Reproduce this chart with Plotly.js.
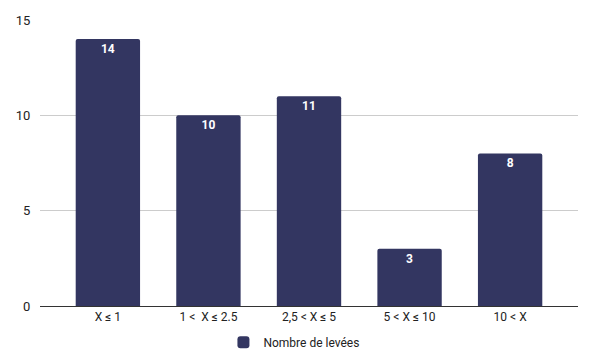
<!DOCTYPE html>
<html><head><meta charset="utf-8">
<script src="https://cdn.plot.ly/plotly-3.0.1.min.js"></script>
<style>html,body{margin:0;padding:0;background:#fff}</style>
</head><body><div id="chart" style="width:594px;height:364px"></div>
<script>
const categories = ["X ≤ 1", "1 <  X ≤ 2.5", "2,5 < X ≤ 5", "5 < X ≤ 10", "10 < X"];
const values = [14, 10, 11, 3, 8];
const seriesName = "Nombre de levées";
const yTicks = [0, 5, 10, 15];

Plotly.newPlot("chart", [{
  type: "bar",
  x: categories,
  y: values,
  name: seriesName,
  marker: {color: "#333661", cornerradius: 2},
  width: 0.64,
  text: values.map(String),
  textposition: "inside",
  insidetextanchor: "end",
  textfont: {family: "Roboto", size: 12, color: "#ffffff", weight: "bold"},
  cliponaxis: false,
  showlegend: true
}], {
  width: 594, height: 364,
  margin: {l: 40, r: 16, t: 20, b: 58},
  paper_bgcolor: "#fff", plot_bgcolor: "#fff",
  font: {family: "Roboto", size: 12, color: "#222"},
  xaxis: {range: [-0.675, 4.675], showgrid: false, showline: true, linecolor: "#333", linewidth: 1, ticks: "", tickfont: {size: 12, color: "#222"}, fixedrange: true, automargin: false},
  yaxis: {range: [0, 15], tickvals: yTicks, showgrid: true, gridcolor: "#cccccc", zeroline: false, ticks: "outside", ticklen: 6, tickcolor: "rgba(0,0,0,0)", tickfont: {size: 13, color: "#222"}, fixedrange: true, automargin: false},
  showlegend: true,
  legend: {orientation: "h", xref: "paper", x: 0.472, xanchor: "center", yref: "container", y: 0.06, yanchor: "middle", font: {size: 12, color: "#222"}},
  bargap: 0.36
}, {displayModeBar: false, staticPlot: true});
</script></body></html>
